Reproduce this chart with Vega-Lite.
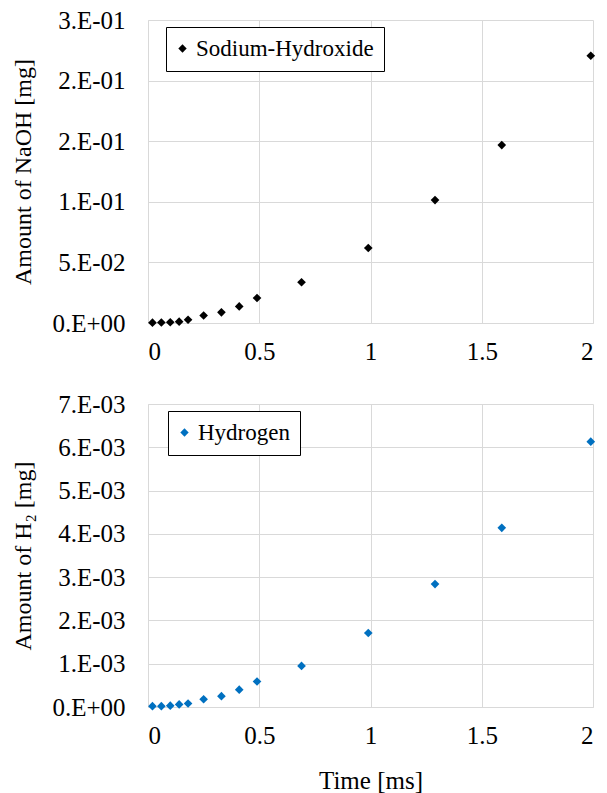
{
  "$schema": "https://vega.github.io/schema/vega-lite/v6.json",
  "background": "white",
  "padding": {"left": 11, "top": 8, "right": 3, "bottom": 0},
  "spacing": 28,
  "datasets": {
    "naoh": [
      {"series": "Sodium-Hydroxide", "time": 0.02, "amount": 0.0003},
      {"series": "Sodium-Hydroxide", "time": 0.06, "amount": 0.0004},
      {"series": "Sodium-Hydroxide", "time": 0.10, "amount": 0.0006},
      {"series": "Sodium-Hydroxide", "time": 0.14, "amount": 0.0011},
      {"series": "Sodium-Hydroxide", "time": 0.18, "amount": 0.0027},
      {"series": "Sodium-Hydroxide", "time": 0.25, "amount": 0.0062},
      {"series": "Sodium-Hydroxide", "time": 0.33, "amount": 0.0088},
      {"series": "Sodium-Hydroxide", "time": 0.41, "amount": 0.0137},
      {"series": "Sodium-Hydroxide", "time": 0.49, "amount": 0.0206},
      {"series": "Sodium-Hydroxide", "time": 0.69, "amount": 0.0336},
      {"series": "Sodium-Hydroxide", "time": 0.99, "amount": 0.0619},
      {"series": "Sodium-Hydroxide", "time": 1.29, "amount": 0.1014},
      {"series": "Sodium-Hydroxide", "time": 1.59, "amount": 0.1468},
      {"series": "Sodium-Hydroxide", "time": 1.99, "amount": 0.2205}
    ],
    "h2": [
      {"series": "Hydrogen", "time": 0.02, "amount": 0.00002},
      {"series": "Hydrogen", "time": 0.06, "amount": 0.00002},
      {"series": "Hydrogen", "time": 0.10, "amount": 0.00003},
      {"series": "Hydrogen", "time": 0.14, "amount": 0.00006},
      {"series": "Hydrogen", "time": 0.18, "amount": 0.00008},
      {"series": "Hydrogen", "time": 0.25, "amount": 0.00018},
      {"series": "Hydrogen", "time": 0.33, "amount": 0.00025},
      {"series": "Hydrogen", "time": 0.41, "amount": 0.0004},
      {"series": "Hydrogen", "time": 0.49, "amount": 0.00059},
      {"series": "Hydrogen", "time": 0.69, "amount": 0.00095},
      {"series": "Hydrogen", "time": 0.99, "amount": 0.00171},
      {"series": "Hydrogen", "time": 1.29, "amount": 0.00284},
      {"series": "Hydrogen", "time": 1.59, "amount": 0.00414},
      {"series": "Hydrogen", "time": 1.99, "amount": 0.00613}
    ]
  },
  "config": {
    "font": "Liberation Serif, Times New Roman, serif",
    "view": {"stroke": null},
    "axis": {
      "labelFont": "Liberation Serif, Times New Roman, serif", "labelFontSize": 25, "labelColor": "#000000",
      "titleFont": "Liberation Serif, Times New Roman, serif", "titleFontSize": 24, "titleFontWeight": "normal", "titleColor": "#000000",
      "gridColor": "#d9d9d9", "gridWidth": 1, "domainColor": "#d9d9d9", "ticks": false
    },
    "axisY": {"labelPadding": 23, "titlePadding": 16},
    "axisX": {"labelPadding": 16, "titlePadding": 20, "titleFontSize": 25},
    "legend": {
      "strokeColor": "#000000", "fillColor": "white", "padding": 10,
      "labelFont": "Liberation Serif, Times New Roman, serif", "labelFontSize": 23, "labelColor": "#000000", "labelLimit": 0,
      "symbolType": "diamond", "symbolSize": 70, "symbolStrokeWidth": 0, "labelOffset": 2, "symbolOffset": -5
    }
  },
  "resolve": {"scale": {"color": "independent"}},
  "vconcat": [
    {
      "width": 445, "height": 303,
      "data": {"name": "naoh"},
      "mark": {"type": "point", "shape": "diamond", "filled": true, "size": 75, "opacity": 1},
      "encoding": {
        "x": {"field": "time", "type": "quantitative", "scale": {"domain": [0, 2], "nice": false, "padding": 0},
              "axis": {"values": [0, 0.5, 1, 1.5, 2], "format": "~g", "title": null}},
        "y": {"field": "amount", "type": "quantitative", "scale": {"domain": [0, 0.25], "nice": false, "padding": 0},
              "axis": {"values": [0, 0.05, 0.1, 0.15, 0.2, 0.25], "title": "Amount of NaOH [mg]",
                       "labelExpr": "datum.value == 0 ? '0.E+00' : datum.value < 0.07 ? '5.E-02' : datum.value < 0.12 ? '1.E-01' : datum.value < 0.22 ? '2.E-01' : '3.E-01'"}},
        "color": {"field": "series", "type": "nominal",
                  "scale": {"domain": ["Sodium-Hydroxide"], "range": ["#000000"]},
                  "legend": {"title": null, "orient": "none", "legendX": 18, "legendY": 7}}
      }
    },
    {
      "width": 445, "height": 303,
      "data": {"name": "h2"},
      "mark": {"type": "point", "shape": "diamond", "filled": true, "size": 75, "opacity": 1},
      "encoding": {
        "x": {"field": "time", "type": "quantitative", "scale": {"domain": [0, 2], "nice": false, "padding": 0},
              "axis": {"values": [0, 0.5, 1, 1.5, 2], "format": "~g", "title": "Time [ms]"}},
        "y": {"field": "amount", "type": "quantitative", "scale": {"domain": [0, 0.007], "nice": false, "padding": 0},
              "axis": {"values": [0, 0.001, 0.002, 0.003, 0.004, 0.005, 0.006, 0.007], "title": "Amount of H₂ [mg]",
                       "labelExpr": "datum.value == 0 ? '0.E+00' : round(datum.value * 1000) + '.E-03'"}},
        "color": {"field": "series", "type": "nominal",
                  "scale": {"domain": ["Hydrogen"], "range": ["#0070C0"]},
                  "legend": {"title": null, "orient": "none", "legendX": 20, "legendY": 7}}
      }
    }
  ]
}
